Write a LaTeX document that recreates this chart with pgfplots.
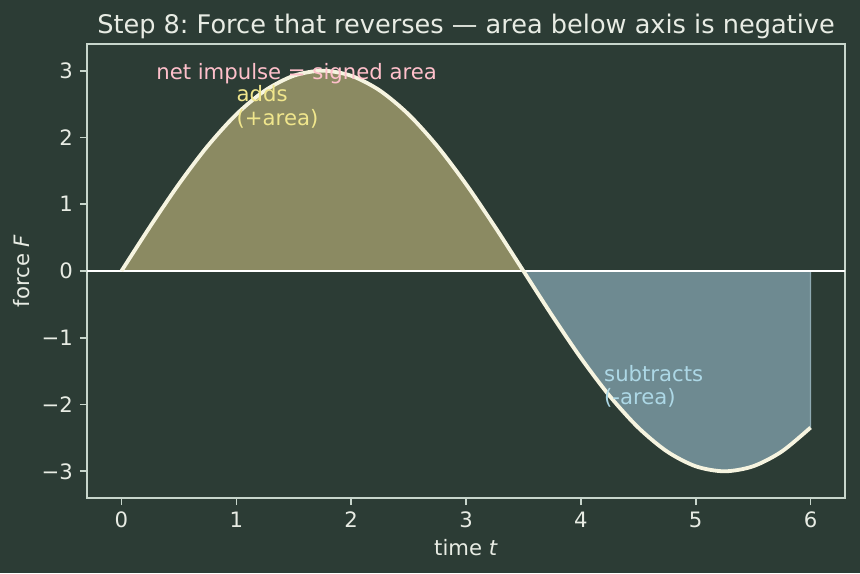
\documentclass[border=0pt]{standalone}
\usepackage{fontspec}
\setmainfont{DejaVu Sans}
\usepackage{pgfplots}
\pgfplotsset{compat=1.18}
\definecolor{bg}{HTML}{2C3C35}
\definecolor{spine}{HTML}{C8D6CC}
\definecolor{txt}{HTML}{E8ECE4}
\definecolor{posfill}{HTML}{8B8A62}
\definecolor{negfill}{HTML}{6E8A91}
\definecolor{negedge}{HTML}{8FAAB2}
\definecolor{curve}{HTML}{F6F4E0}
\definecolor{pinktxt}{HTML}{FFC0CB}
\definecolor{khakitxt}{HTML}{F0E68C}
\definecolor{bluetxt}{HTML}{ADD8E6}
\newcommand{\fs}{\fontsize{10.6}{12.7}\selectfont}
\frenchspacing
\begin{document}
\begin{tikzpicture}
\useasboundingbox (-43.5pt,-37.5pt) rectangle (386.5pt,249pt);
\fill[bg] (-43.5pt,-37.5pt) rectangle (386.5pt,249pt);
\begin{axis}[
  scale only axis, width=379pt, height=227pt,
  at={(0,0)}, anchor=south west,
  xmin=-0.3, xmax=6.3, ymin=-3.4, ymax=3.4,
  axis line style={spine, line width=0.8pt},
  tick style={spine, line width=0.8pt},
  tick align=outside, major tick length=3.5pt,
  xtick={0,1,2,3,4,5,6}, ytick={-3,-2,-1,0,1,2,3},
  yticklabels={−3,−2,−1,0,1,2,3},
  xtick pos=bottom, ytick pos=left,
  /pgf/number format/assume math mode=true,
  ticklabel style={font=\fs, text=txt},
  xlabel={time \textit{t}}, ylabel={force \textit{F}},
  label style={font=\fs, text=txt},
  xlabel style={at={(axis description cs:0.5,-0.110)}, anchor=center},
  ylabel style={at={(axis description cs:-0.0858,0.5)}, anchor=center},
  title={Step 8: Force that reverses — area below axis is negative},
  title style={font=\fontsize{12.8}{15}\selectfont, text=txt, at={(axis description cs:0.5,1.013)}, anchor=center},
]
\addplot[draw=none, fill=posfill, smooth] coordinates {
(0,0) (0.25,0.6676) (0.5,1.3017) (0.75,1.8705) (1.0,2.3455) (1.25,2.7029) (1.5,2.9248) (1.75,3.0)
(2.0,2.9248) (2.25,2.7029) (2.5,2.3455) (2.75,1.8705) (3.0,1.3017) (3.25,0.6676) (3.5,0)
} \closedcycle;
\addplot[draw=negedge, line width=0.6pt, fill=negfill, smooth] coordinates {
(3.5,0) (3.75,-0.6676) (4.0,-1.3017) (4.25,-1.8705) (4.5,-2.3455) (4.75,-2.7029) (5.0,-2.9248) (5.25,-3.0)
(5.5,-2.9248) (5.75,-2.7029) (6.0,-2.3455)
} \closedcycle;
\addplot[white, line width=0.7pt] coordinates {(-0.3,0) (6.3,0)};
\addplot[curve, line width=1.9pt, smooth] coordinates {
(0,0) (0.25,0.6676) (0.5,1.3017) (0.75,1.8705) (1.0,2.3455) (1.25,2.7029) (1.5,2.9248) (1.75,3.0)
(2.0,2.9248) (2.25,2.7029) (2.5,2.3455) (2.75,1.8705) (3.0,1.3017) (3.25,0.6676) (3.5,0)
(3.75,-0.6676) (4.0,-1.3017) (4.25,-1.8705) (4.5,-2.3455) (4.75,-2.7029) (5.0,-2.9248) (5.25,-3.0)
(5.5,-2.9248) (5.75,-2.7029) (6.0,-2.3455)
};
\node[anchor=base west, inner sep=0, text=pinktxt, font=\fs] at (axis cs:0.3,2.875) {net impulse = signed area};
\node[anchor=base west, inner sep=0, text=khakitxt, font=\fs] at (axis cs:1.0,2.54) {adds};
\node[anchor=base west, inner sep=0, text=khakitxt, font=\fs] at (axis cs:1.0,2.175) {(+area)};
\node[anchor=base west, inner sep=0, text=bluetxt, font=\fs] at (axis cs:4.2,-1.66) {subtracts};
\node[anchor=base west, inner sep=0, text=bluetxt, font=\fs] at (axis cs:4.2,-2.0) {(-area)};
\end{axis}
\end{tikzpicture}
\end{document}
